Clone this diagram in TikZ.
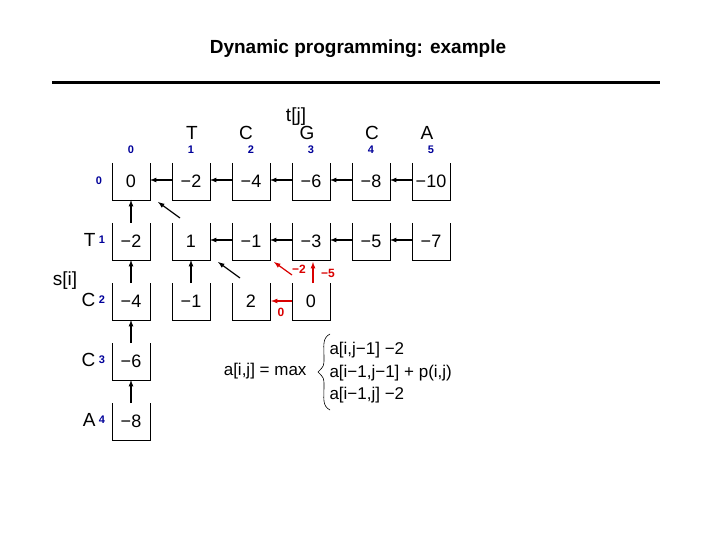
\documentclass[tikz,border=0pt]{standalone}
\usepackage{fontspec}
\setmainfont{Liberation Sans}
\begin{document}
\begin{tikzpicture}[x=1pt,y=-1pt,
  idx/.style={font=\fontsize{11}{12}\selectfont\bfseries,text=blue!60!black},
  val/.style={font=\fontsize{18}{20}\selectfont},
  fml/.style={font=\fontsize{17}{19}\selectfont},
  lab/.style={font=\fontsize{19}{21}\selectfont},
  arr/.style={-latex,line width=1.2pt},
  rarr/.style={-latex,line width=1.2pt,red!85!black},
  rlab/.style={font=\fontsize{12}{13}\selectfont\bfseries,text=red!85!black}]
\useasboundingbox (0,0) rectangle (720,540);
\node[font=\fontsize{19}{22}\selectfont\bfseries] (title) at (358,49) {Dynamic programming: example};
\draw[line width=3pt] (52,83) -- (660,83);
% boxes
\foreach \i/\row in {0/{0,−2,−4,−6,−8,−10},1/{−2,1,−1,−3,−5,−7},2/{−4,−1,2,0},3/{−6},4/{−8}}{
  \foreach \v [count=\j from 0] in \row {
    \pgfmathsetmacro\xl{112+60*\j}
    \pgfmathsetmacro\yt{163+60*\i}
    \draw[line width=0.7pt] (\xl,\yt) -- (\xl,\yt+37) -- (\xl+38,\yt+37) -- (\xl+38,\yt);
    \node[val,inner sep=0] (b\i\j) at (\xl+19,\yt+18) {\v};
  }
}
% headers
\node[lab] (tj) at (296,117) {t[j]};
\foreach \c/\x [count=\j] in {T/192,C/246,G/307,C/372,A/427}{
  \node[lab] (h\j) at (\x,133) {\c};
}
\foreach \j in {0,...,5}{ \node[idx] (n\j) at (131+60*\j,150) {\j}; }
\node[idx] (r0) at (99,181) {0};
\node[lab] (s) at (65,281) {s[i]};
\foreach \c/\i in {T/1,C/2,C/3,A/4}{
  \node[lab,anchor=east] (rl\i) at (99,180+60*\i) {\c};
  \node[idx] (ri\i) at (102,180+60*\i) {\i};
}
% horizontal arrows
\foreach \j in {1,...,5}{\draw[arr] (112+60*\j,180) -- (90+60*\j,180);}
\foreach \j in {2,...,5}{\draw[arr] (112+60*\j,240) -- (90+60*\j,240);}
% vertical arrows
\foreach \i in {1,2,3,4}{\draw[arr] (131,163+60*\i) -- (131,140+60*\i);}
\draw[arr] (191,283) -- (191,260);
% diagonal
\draw[arr] (180,218) -- (158,202);
\draw[arr] (240,278) -- (218,262);
% red
\draw[rarr] (292,275) -- (274,262);
\node[rlab] at (299,269) {−2};
\draw[rarr] (313,283) -- (313,262);
\node[rlab] at (328,273) {−5};
\draw[rarr] (292,301) -- (271,301);
\node[rlab] at (281,312) {0};
% formula
\node[fml,anchor=east] (f) at (310,371) {a[i,j] = max};
\draw[line width=0.6pt] (330,334) .. controls (322,338) and (324,346) .. (324,358)
  .. controls (324,366) .. (318,372) .. controls (324,378) .. (324,386)
  .. controls (324,398) and (322,406) .. (330,410);
\node[fml,anchor=west] (f1) at (326,350) {a[i,j−1] −2};
\node[fml,anchor=west] (f2) at (326,373) {a[i−1,j−1] + p(i,j)};
\node[fml,anchor=west] (f3) at (326,395) {a[i−1,j] −2};
\end{tikzpicture}
\end{document}
